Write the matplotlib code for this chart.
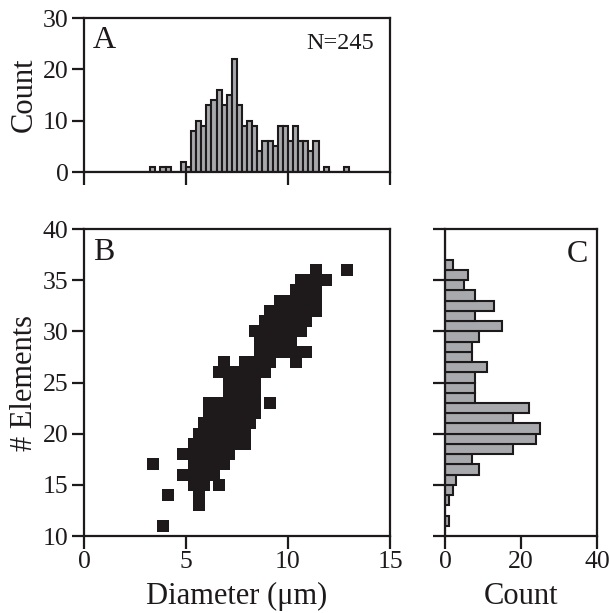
import matplotlib
matplotlib.use("Agg")
import matplotlib.pyplot as plt
import numpy as np

plt.rcParams["font.family"] = ["Liberation Serif", "DejaVu Serif"]

# number of elements (y) and the diameters (um) measured at that level
elem_levels = [11, 13, 14, 15, 16, 17, 18, 19, 20, 21, 22, 23, 24, 25,
               26, 27, 28, 29, 30, 31, 32, 33, 34, 35, 36]
diam_by_level = [
    [3.875],
    [5.625],
    [4.125, 5.625],
    [5.375, 5.875, 6.625],
    [4.875, 5.125, 5.375, 5.625, 5.875, 6.125, 6.125, 6.375, 6.375],
    [3.375, 5.375, 5.625, 6.125, 6.375, 6.625, 6.875],
    [4.875, 5.375, 5.375, 5.625, 5.625, 5.875, 5.875, 6.125, 6.125,
     6.375, 6.375, 6.375, 6.625, 6.625, 6.875, 6.875, 7.125, 7.125],
    [5.375, 5.375, 5.375, 5.625, 5.625, 5.625, 5.875, 5.875, 6.125,
     6.125, 6.375, 6.375, 6.625, 6.625, 6.625, 6.875, 6.875, 7.125,
     7.125, 7.375, 7.375, 7.375, 7.625, 7.875],
    [5.625, 5.875, 5.875, 6.125, 6.125, 6.375, 6.375, 6.625, 6.625,
     6.625, 6.875, 6.875, 7.125, 7.125, 7.125, 7.375, 7.375, 7.375,
     7.375, 7.375, 7.625, 7.625, 7.625, 7.875, 7.875],
    [5.875, 6.125, 6.375, 6.375, 6.625, 6.625, 6.875, 6.875, 7.125,
     7.125, 7.375, 7.375, 7.375, 7.375, 7.625, 7.625, 7.875, 8.125],
    [6.125, 6.125, 6.375, 6.375, 6.625, 6.625, 6.875, 6.875, 7.125,
     7.125, 7.375, 7.375, 7.375, 7.375, 7.625, 7.625, 7.875, 8.125,
     8.125, 8.375, 8.375, 8.375],
    [6.125, 6.625, 7.125, 7.375, 7.625, 8.125, 8.375, 9.125],
    [7.125, 7.375, 7.375, 7.625, 7.875, 8.125, 8.125, 8.375],
    [7.125, 7.375, 7.375, 7.625, 7.875, 8.125, 8.125, 8.375],
    [6.625, 6.875, 7.125, 7.375, 7.625, 7.625, 7.875, 8.125, 8.375,
     8.625, 8.875],
    [6.875, 7.875, 8.125, 8.375, 8.875, 9.125, 10.375],
    [8.625, 8.875, 9.375, 9.625, 9.875, 10.375, 10.875],
    [8.625, 8.875, 9.125, 9.375, 9.625, 9.625, 9.875, 9.875, 10.125],
    [8.375, 8.625, 8.875, 9.125, 9.375, 9.375, 9.625, 9.625, 9.875,
     9.875, 10.125, 10.125, 10.375, 10.375, 10.625],
    [8.875, 9.125, 9.625, 9.875, 10.125, 10.375, 10.625, 10.875],
    [9.125, 9.375, 9.625, 9.625, 9.875, 9.875, 10.125, 10.375, 10.375,
     10.625, 10.875, 11.125, 11.375],
    [9.625, 9.875, 10.125, 10.375, 10.625, 10.875, 11.125, 11.375],
    [10.375, 10.625, 10.875, 11.125, 11.375],
    [10.625, 10.875, 11.125, 11.375, 11.375, 11.875],
    [11.375, 12.875],
]

diameters = np.array([d for row in diam_by_level for d in row])
elements = np.array([lvl for lvl, row in zip(elem_levels, diam_by_level)
                     for _ in row])

ink = "#1e1a1b"
bar_grey = "#a7a9ac"

fig = plt.figure(figsize=(6.09, 6.13), dpi=100)
ax_a = fig.add_axes([0.1379, 0.7194, 0.5025, 0.2512])
ax_b = fig.add_axes([0.1379, 0.1256, 0.5025, 0.5008])
ax_c = fig.add_axes([0.7307, 0.1256, 0.2496, 0.5008])

for ax in (ax_a, ax_b, ax_c):
    for sp in ax.spines.values():
        sp.set_linewidth(1.6)
        sp.set_color(ink)
    ax.tick_params(direction="out", length=9, width=1.6, color=ink,
                   labelsize=18.5, pad=2, labelcolor=ink)

# A: diameter histogram
ax_a.hist(diameters, bins=np.arange(0, 15.01, 0.25), color=bar_grey,
          edgecolor=ink, linewidth=1.5)
ax_a.set_xlim(0, 15)
ax_a.set_ylim(0, 30)
ax_a.set_xticks([0, 5, 10, 15])
ax_a.set_xticklabels([])
ax_a.set_yticks([0, 10, 20, 30])
ax_a.set_ylabel("Count", fontsize=22, color=ink, labelpad=3)
ax_a.text(0.028, 0.945, "A", transform=ax_a.transAxes, fontsize=23,
          va="top", ha="left", color=ink)
ax_a.text(0.948, 0.905, "N=%d" % len(diameters), transform=ax_a.transAxes,
          fontsize=17.5, va="top", ha="right", color=ink)

# B: scatter
ax_b.scatter(diameters, elements, marker="s", s=80, color=ink,
             linewidths=0, zorder=3)
ax_b.set_xlim(0, 15)
ax_b.set_ylim(10, 40)
ax_b.set_xticks([0, 5, 10, 15])
ax_b.set_yticks([10, 15, 20, 25, 30, 35, 40])
ax_b.set_xlabel("Diameter (μm)", fontsize=22, color=ink, labelpad=6)
ax_b.set_ylabel("# Elements", fontsize=22, color=ink, labelpad=3)
ax_b.text(0.03, 0.97, "B", transform=ax_b.transAxes, fontsize=23,
          va="top", ha="left", color=ink)

# C: element histogram
ax_c.hist(elements, bins=np.arange(10, 41, 1), orientation="horizontal",
          color=bar_grey, edgecolor=ink, linewidth=1.5)
ax_c.set_xlim(0, 40)
ax_c.set_ylim(10, 40)
ax_c.set_xticks([0, 20, 40])
ax_c.set_yticks([10, 15, 20, 25, 30, 35, 40])
ax_c.set_yticklabels([])
ax_c.set_xlabel("Count", fontsize=22, color=ink, labelpad=6)
ax_c.text(0.94, 0.965, "C", transform=ax_c.transAxes, fontsize=23,
          va="top", ha="right", color=ink)

fig.savefig("out.png", dpi=100)
